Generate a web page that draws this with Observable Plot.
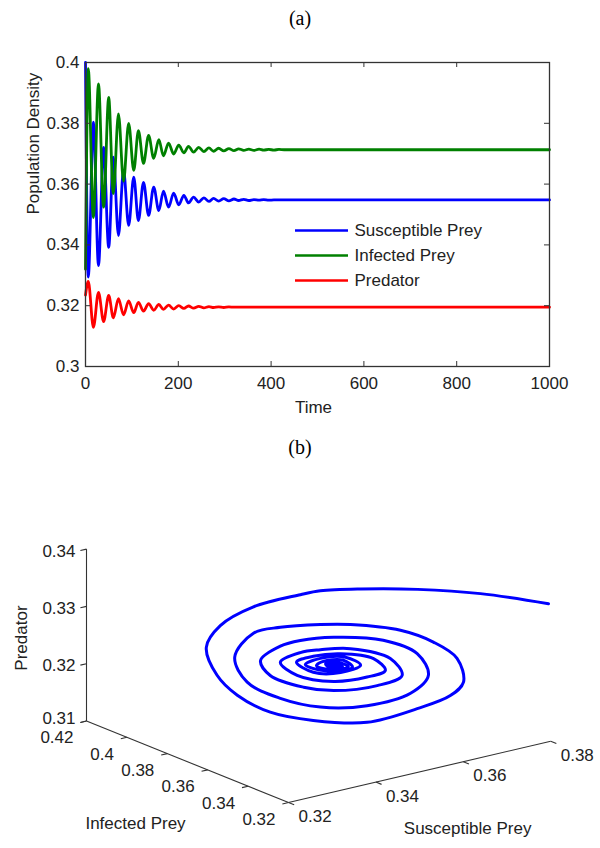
<!DOCTYPE html>
<html><head><meta charset="utf-8">
<script src="https://cdn.jsdelivr.net/npm/d3@7"></script>
<script src="https://cdn.jsdelivr.net/npm/@observablehq/plot@0.6"></script>
<style>
body{margin:0;background:#fff;}
#root{position:relative;width:600px;height:848px;overflow:hidden;font-family:"Liberation Sans",Arial,sans-serif;}
.ttl{position:absolute;left:0;width:600px;text-align:center;font-family:"Liberation Serif","Times New Roman",serif;font-size:20px;line-height:24px;color:#000;}
.pnl{position:absolute;left:0;}
</style></head><body>
<div id="root">
<div class="ttl" style="top:6px">(a)</div>
<div class="pnl" id="pa" style="top:40px"></div>
<div class="ttl" style="top:435px">(b)</div>
<div class="pnl" id="pb" style="top:470px"></div>
</div>
<script>
// ---------- Panel (a) data: extrema of the damped oscillations ----------
const timePoints = [0,6,17,28,39,50,60,71,82,93,104,114,125,136,147,158,168,179,190,201,212,222,233,244,255,266,276,287,298,309,320,330,341,352,363,374,384,395,406,417,428,438,449,460,500,1000];
const susceptible = [0.400,0.3294,0.3804,0.3332,0.3721,0.3392,0.3689,0.3431,0.3645,0.3464,
  0.3623,0.3480,0.3606,0.3497,0.3590,0.3513,0.3577,0.3524,0.3570,0.3532,
  0.3563,0.3538,0.3557,0.3541,0.3555,0.3543,0.3553,0.3544,0.3552,0.3545,
  0.3551,0.3546,0.3550,0.3546,0.3549,0.3547,0.3549,0.3547,0.3548,0.3548,
  0.3548,0.3548,0.3548,0.3548,0.3548,0.3548];
const infected = [0.332,0.398,0.349,0.393,0.3524,0.3885,0.3569,0.3831,0.3610,0.3800,
  0.3645,0.3776,0.3668,0.3760,0.3685,0.3746,0.3693,0.3735,0.3699,0.3728,
  0.3703,0.3724,0.3705,0.3721,0.3707,0.3719,0.3708,0.3718,0.3709,0.3717,
  0.3710,0.3716,0.3711,0.3715,0.3711,0.3715,0.3712,0.3714,0.3712,0.3714,
  0.3713,0.3713,0.3713,0.3713,0.3713,0.3713];
const predator = [0.3235,0.3280,0.3129,0.3244,0.3148,0.3234,0.3160,0.3223,0.3170,0.3216,
  0.3177,0.3211,0.3182,0.3207,0.3185,0.3204,0.3188,0.3202,0.3189,0.3200,
  0.3191,0.3199,0.3192,0.3198,0.3193,0.3197,0.3194,0.3196,0.3194,0.3196,
  0.3195,0.3195,0.3195,0.3195,0.3195,0.3195,0.3195,0.3195,0.3195,0.3195,
  0.3195,0.3195,0.3195,0.3195,0.3195,0.3195];
const seriesNames = ["Susceptible Prey","Infected Prey","Predator"];
const seriesColors = ["#0000ff","#008000","#ff0000"];
const xTicksA = [0,200,400,600,800,1000];
const yTicksA = [0.3,0.32,0.34,0.36,0.38,0.4];

// ---------- Panel (b) data: trajectory in (S, I, P) ----------
const trajS = [0.3941,0.3815,0.3698,0.3592,0.3517,0.3480,0.3393,0.3331,0.3305,0.3325,
  0.3363,0.3424,0.3504,0.3604,0.3697,0.3759,0.3783,0.3771,0.3727,0.3666,
  0.3573,0.3517,0.3443,0.3393,0.3358,0.3381,0.3443,0.3517,0.3604,0.3685,
  0.3718,0.3697,0.3634,0.3542,0.3480,0.3443,0.3406,0.3424,0.3486,0.3542,
  0.3623,0.3669,0.3647,0.3573,0.3517,0.3480,0.3443,0.3474,0.3542,0.3604,
  0.3638,0.3616,0.3555,0.3504,0.3473,0.3504,0.3555,0.3592,0.3564,0.3517,
  0.3489,0.3527,0.3577,0.3560,0.3521,0.3510,0.3540,0.3569,0.3551,0.3527,
  0.3536,0.3558,0.3545,0.3547,
  0.35322,0.35415,0.35582,0.35545,0.35378,0.35434,0.35545,0.35489,0.35452];
const trajI = [0.3516,0.3580,0.3638,0.3691,0.3728,0.3747,0.3791,0.3821,0.3834,0.3824,
  0.3806,0.3775,0.3735,0.3685,0.3638,0.3608,0.3595,0.3601,0.3623,0.3654,
  0.3700,0.3728,0.3766,0.3791,0.3808,0.3796,0.3766,0.3728,0.3685,0.3645,
  0.3628,0.3638,0.3670,0.3716,0.3747,0.3766,0.3784,0.3775,0.3744,0.3716,
  0.3676,0.3652,0.3663,0.3700,0.3728,0.3747,0.3766,0.3750,0.3716,0.3685,
  0.3668,0.3679,0.3710,0.3735,0.3751,0.3735,0.3710,0.3691,0.3705,0.3728,
  0.3742,0.3724,0.3699,0.3707,0.3726,0.3732,0.3717,0.3702,0.3712,0.3724,
  0.3719,0.3708,0.3714,0.3714,
  0.37209,0.37163,0.37079,0.37098,0.37181,0.37153,0.37098,0.37126,0.37144];
const trajP = [0.3270,0.3301,0.3321,0.3333,0.3338,0.3335,0.3323,0.3297,0.3262,0.3211,
  0.3172,0.3136,0.3113,0.3099,0.3113,0.3129,0.3150,0.3193,0.3226,0.3253,
  0.3273,0.3279,0.3282,0.3277,0.3239,0.3193,0.3158,0.3135,0.3128,0.3141,
  0.3169,0.3209,0.3239,0.3254,0.3255,0.3249,0.3228,0.3200,0.3173,0.3161,
  0.3161,0.3174,0.3206,0.3231,0.3235,0.3234,0.3221,0.3195,0.3177,0.3178,
  0.3186,0.3209,0.3224,0.3225,0.3218,0.3197,0.3191,0.3200,0.3217,0.3220,
  0.3212,0.3197,0.3198,0.3212,0.3214,0.3208,0.3197,0.3200,0.3209,0.3209,
  0.3201,0.3201,0.3206,0.3203,
  0.32068,0.31997,0.31997,0.32053,0.32053,0.32004,0.32009,0.32033,0.32028];
const sTicksB = [0.32,0.34,0.36,0.38];
const iTicksB = [0.32,0.34,0.36,0.38,0.40,0.42];
const pTicksB = [0.31,0.32,0.33,0.34];

// ---------- styles ----------
const FONT = "'Liberation Sans', Arial, sans-serif";
const FS = 17;
const TXT = "#222";
const AX = "#333";
const fmt = d => String(+d.toFixed(2));

// ---------- Panel (a) ----------
{
  const ML = 85, MR = 51, MT = 22, MB = 54, H = 380, W = 600;
  const sx = d3.scaleLinear([0,1000],[ML, W-MR]);
  const sy = d3.scaleLinear([0.3,0.4],[H-MB, MT]);
  const tkY = Math.abs(sy.invert(0) - sy.invert(5));
  const tkX = Math.abs(sx.invert(ML+5) - sx.invert(ML));
  const series = [susceptible, infected, predator].map((vals, k) =>
    timePoints.map((t, j) => ({t, v: vals[j], name: seriesNames[k]})));
  const legend = seriesNames.map((name, k) => ({
    name, color: seriesColors[k],
    x1: sx.invert(295), x2: sx.invert(348), xt: sx.invert(354),
    y: sy.invert(190 + 25*k)
  }));
  const marks = [
    ...series.map((rows, k) => Plot.line(rows, {x:"t", y:"v", stroke: seriesColors[k], strokeWidth: 2.8, curve: "monotone-x"})),
    Plot.ruleX(xTicksA, {x: d=>d, y1: ()=>0.3, y2: ()=>0.3+tkY, stroke: AX}),
    Plot.ruleX(xTicksA, {x: d=>d, y1: ()=>0.4, y2: ()=>0.4-tkY, stroke: AX}),
    Plot.ruleY(yTicksA, {y: d=>d, x1: ()=>0, x2: ()=>tkX, stroke: AX}),
    Plot.ruleY(yTicksA, {y: d=>d, x1: ()=>1000, x2: ()=>1000-tkX, stroke: AX}),
    Plot.frame({stroke: AX, strokeWidth: 1.3}),
    Plot.text(xTicksA, {x: d=>d, y: ()=>0.3, text: d=>String(d), dy: 17, lineAnchor: "middle", fontSize: FS, fill: TXT}),
    Plot.text(yTicksA, {x: ()=>0, y: d=>d, text: fmt, dx: -6, textAnchor: "end", lineAnchor: "middle", fontSize: FS, fill: TXT}),
    Plot.text(["Time"], {frameAnchor: "bottom", text: d=>d, dx: -4, dy: 41, lineAnchor: "middle", fontSize: FS, fill: TXT}),
    Plot.text(["Population Density"], {frameAnchor: "left", text: d=>d, dx: -52, rotate: -90, lineAnchor: "middle", fontSize: FS, fill: TXT}),
    Plot.ruleY(legend, {y: "y", x1: "x1", x2: "x2", stroke: "color", strokeWidth: 2.6}),
    Plot.text(legend, {x: "xt", y: "y", text: "name", textAnchor: "start", lineAnchor: "middle", fontSize: FS, fill: TXT})
  ];
  const chart = Plot.plot({
    width: W, height: H, marginLeft: ML, marginRight: MR, marginTop: MT, marginBottom: MB,
    style: {fontFamily: FONT, background: "#fff", overflow: "visible"},
    x: {domain: [0,1000], axis: null},
    y: {domain: [0.3,0.4], axis: null},
    marks
  });
  document.getElementById("pa").appendChild(chart);
}

// ---------- Panel (b): oblique 3-D projection ----------
{
  const W = 600, H = 378;
  const s0 = 0.32, i0 = 0.32, p0 = 0.31;
  // screen-space basis vectors (px per unit) for S, I and P
  const proj = (s, i, p) => ({
    X: 4370*(s - s0) - 2020*(i - i0),
    Y: 1020*(s - s0) + 815*(i - i0) + 5730*(p - p0)
  });
  const traj = trajS.map((s, k) => proj(s, trajI[k], trajP[k]));
  const seg = (a, b) => { const A = proj(...a), B = proj(...b); return {x1: A.X, y1: A.Y, x2: B.X, y2: B.Y}; };
  const axes = [
    seg([0.32,0.32,0.31],[0.38,0.32,0.31]),
    seg([0.32,0.42,0.31],[0.32,0.32,0.31]),
    seg([0.32,0.42,0.31],[0.32,0.42,0.34])
  ];
  const ticks = [
    ...sTicksB.map(s => seg([s,0.32,0.31],[s,0.32-0.0028,0.31])),
    ...iTicksB.map(i => seg([0.32,i,0.31],[0.32-0.0014,i,0.31])),
    ...pTicksB.map(p => seg([0.32,0.42,p],[0.32-0.0014,0.42,p]))
  ];
  const sLab = sTicksB.map(s => ({...proj(s,0.32,0.31), t: fmt(s)}));
  const iLab = iTicksB.map(i => ({...proj(0.32,i,0.31), t: fmt(i)}));
  const pLab = pTicksB.map(p => ({...proj(0.32,0.42,p), t: fmt(p), dy: p === 0.31 ? -1 : 2}));
  const sTitle = [{...proj(0.35,0.32,0.31), t: "Susceptible Prey"}];
  const iTitle = [{...proj(0.32,0.37,0.31), t: "Infected Prey"}];
  const predLab = [{...proj(0.32,0.42,0.325), t: "Predator"}];
  const chart = Plot.plot({
    width: W, height: H, margin: 0,
    style: {fontFamily: FONT, background: "#fff", overflow: "visible"},
    x: {domain: [-288, 312], range: [0, W], axis: null},
    y: {domain: [-46, 332], range: [H, 0], axis: null},
    marks: [
      Plot.link(axes, {x1:"x1", y1:"y1", x2:"x2", y2:"y2", stroke: AX, strokeWidth: 1.1}),
      Plot.link(ticks, {x1:"x1", y1:"y1", x2:"x2", y2:"y2", stroke: AX, strokeWidth: 1.1}),
      Plot.line(traj, {x:"X", y:"Y", stroke:"#0000ff", strokeWidth: 3, curve: "catmull-rom"}),
      Plot.text(sLab, {x:"X", y:"Y", text:"t", dx: 10, dy: 14, textAnchor:"start", lineAnchor:"middle", fontSize: FS, fill: TXT}),
      Plot.text(iLab, {x:"X", y:"Y", text:"t", dx: -13, dy: 17, textAnchor:"end", lineAnchor:"middle", fontSize: FS, fill: TXT}),
      Plot.text(pLab.filter(d => d.dy === 2), {x:"X", y:"Y", text:"t", dx: -11, dy: 2, textAnchor:"end", lineAnchor:"middle", fontSize: FS, fill: TXT}),
      Plot.text(pLab.filter(d => d.dy === -1), {x:"X", y:"Y", text:"t", dx: -11, dy: -2, textAnchor:"end", lineAnchor:"middle", fontSize: FS, fill: TXT}),
      Plot.text(sTitle, {x:"X", y:"Y", text:"t", dx: 48, dy: 57, lineAnchor:"middle", fontSize: FS, fill: TXT}),
      Plot.text(iTitle, {x:"X", y:"Y", text:"t", dx: -52, dy: 62, lineAnchor:"middle", fontSize: FS, fill: TXT}),
      Plot.text(predLab, {x:"X", y:"Y", text:"t", dx: -65, dy: 3, rotate: -90, lineAnchor:"middle", fontSize: FS, fill: TXT})
    ]
  });
  document.getElementById("pb").appendChild(chart);
}
</script>
</body></html>
